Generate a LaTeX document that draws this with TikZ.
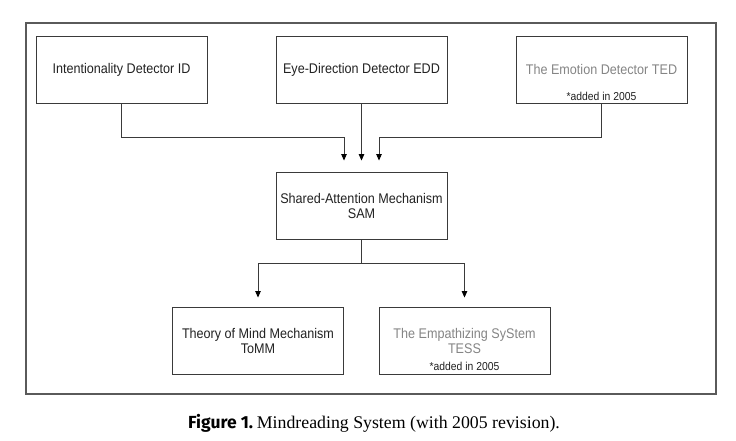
\documentclass[tikz,border=0pt]{standalone}
\usepackage{fontspec}
\setmainfont{Liberation Sans}
\newfontfamily\diagfont[FakeStretch=0.9]{Liberation Sans}
\newfontfamily\capserif{Liberation Serif}
\newfontfamily\capsans{Fira Sans}
\usetikzlibrary{arrows.meta}
\definecolor{linegray}{HTML}{3A3A3A}
\definecolor{framegray}{HTML}{5A5A5A}
\definecolor{addgray}{HTML}{858585}
\definecolor{txtdark}{HTML}{222222}
\tikzset{
  box/.style={draw=linegray, line width=0.9pt, minimum width=171pt, minimum height=67pt, inner sep=0pt, align=center, text=txtdark, font=\diagfont\fontsize{14}{15}\selectfont},
  newtxt/.style={text=addgray},
  note/.style={font=\diagfont\fontsize{11.5}{13}\selectfont, inner sep=0pt, text=txtdark},
  arr/.style={draw=linegray, line width=0.9pt, -{Triangle[length=6.5pt,width=5.5pt,color=black]}},
}
\begin{document}
\begin{tikzpicture}[x=1pt,y=-1pt]
\useasboundingbox (0,0) rectangle (736,440);
\fill[white] (0,0) rectangle (736,440);
\draw[framegray, line width=1.1pt] (26,23) rectangle (716,394);
% top row
\node[box] (id) at (121.5,69.5) {Intentionality Detector ID};
\node[box] (edd) at (361.5,69.5) {Eye-Direction Detector EDD};
\node[box, newtxt] (ted) at (601.5,69.5) {The Emotion Detector TED};
\node[note] (tednote) at (601.5,96) {*added in 2005};
% middle
\node[box] (sam) at (361.5,205.5) {Shared-Attention Mechanism\\SAM};
% bottom
\node[box] (tomm) at (258,340.5) {Theory of Mind Mechanism\\ToMM};
\node[box, newtxt] (tess) at (464.5,340.5) {The Empathizing SyStem\\TESS};
\node[note] (tessnote) at (464.5,366) {*added in 2005};
% connectors
\draw[arr, shorten >=11pt] (id.south) -- ++(0,34) -| ([xshift=-17.5pt]sam.north);
\draw[arr, shorten >=11pt] (edd.south) -- (sam.north);
\draw[arr, shorten >=11pt] (ted.south) -- ++(0,34) -| ([xshift=17.5pt]sam.north);
\draw[arr, shorten >=9pt] (sam.south) -- ++(0,24) -| (tomm.north);
\draw[arr, shorten >=9pt] (sam.south) -- ++(0,24) -| (tess.north);
% caption
\node[inner sep=0pt, anchor=base] (cap) at (374,428) {{\capsans\bfseries\fontsize{17.5}{20}\selectfont Figure 1.} {\capserif\fontsize{17.8}{20}\selectfont Mindreading System (with 2005 revision).}};
\end{tikzpicture}
\end{document}
